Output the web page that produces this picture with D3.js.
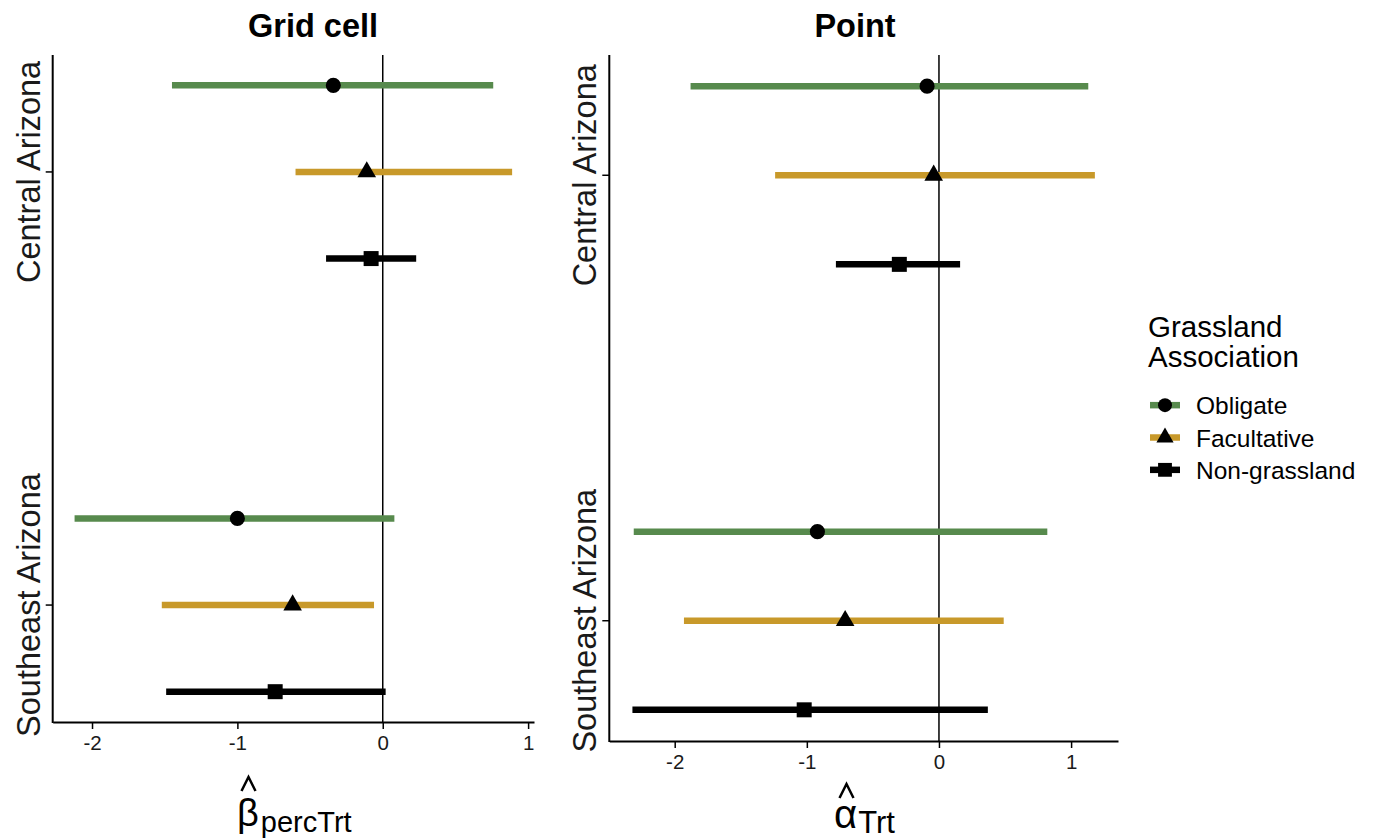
<!DOCTYPE html>
<html>
<head>
<meta charset="utf-8">
<script src="https://cdn.jsdelivr.net/npm/d3@7"></script>
<style>
  html, body { margin: 0; padding: 0; background: #fff; }
  svg { display: block; font-family: "Liberation Sans", Arial, sans-serif; }
</style>
</head>
<body>
<svg id="chart" width="1376" height="840"></svg>
<script>
// ---------------- data ----------------
const regions = ["Central Arizona", "Southeast Arizona"];
const groups = ["Obligate", "Facultative", "Non-grassland"];
const groupColors = ["#578A4D", "#C8992A", "#000000"];
const xTicks = [-2, -1, 0, 1];

// Grid cell panel (beta percTrt); order: region x group
const gridRegion = ["Central Arizona","Central Arizona","Central Arizona","Southeast Arizona","Southeast Arizona","Southeast Arizona"];
const gridGroup  = ["Obligate","Facultative","Non-grassland","Obligate","Facultative","Non-grassland"];
const gridEstimate = [-0.34, -0.11, -0.08, -1.00, -0.62, -0.74];
const gridLower    = [-1.45, -0.60, -0.39, -2.12, -1.52, -1.49];
const gridUpper    = [ 0.76,  0.89,  0.23,  0.08, -0.06,  0.02];

// Point panel (alpha Trt)
const pointRegion = gridRegion;
const pointGroup  = gridGroup;
const pointEstimate = [-0.09, -0.04, -0.30, -0.92, -0.71, -1.02];
const pointLower    = [-1.88, -1.24, -0.78, -2.31, -1.93, -2.32];
const pointUpper    = [ 1.13,  1.18,  0.16,  0.82,  0.49,  0.37];

// ---------------- drawing ----------------
const svg = d3.select("#chart");
const shapes = [d3.symbolCircle, d3.symbolTriangle, d3.symbolSquare];
const shapeSize = [180, 150, 225];
const dodge = [-0.2, 0, 0.2];

function panel(opts) {
  const {left, right, top, bottom, est, lo, hi, reg, grp, title, titleX} = opts;
  const data = est.map((e, i) => ({
    est: e, lo: lo[i], hi: hi[i],
    r: regions.indexOf(reg[i]), g: groups.indexOf(grp[i])
  }));
  const xmin = d3.min(data, d => d.lo), xmax = d3.max(data, d => d.hi);
  const xr = xmax - xmin;
  const x = d3.scaleLinear().domain([xmin - 0.05 * xr, xmax + 0.05 * xr]).range([left, right]);
  const ymin = 1 - 0.2, ymax = regions.length + 0.2, yr = ymax - ymin;
  const y = d3.scaleLinear().domain([ymin - 0.05 * yr, ymax + 0.05 * yr]).range([top, bottom]);
  const yPos = d => y(d.r + 1 + dodge[d.g]);

  const g = svg.append("g");

  // zero reference line
  g.append("line")
    .attr("x1", x(0)).attr("x2", x(0))
    .attr("y1", top).attr("y2", bottom)
    .attr("stroke", "#000").attr("stroke-width", 1.5);

  // error bars
  g.selectAll("line.bar").data(data).join("line")
    .attr("class", "bar")
    .attr("x1", d => x(d.lo)).attr("x2", d => x(d.hi))
    .attr("y1", yPos).attr("y2", yPos)
    .attr("stroke", d => groupColors[d.g])
    .attr("stroke-width", 6.5);

  // points
  g.selectAll("path.pt").data(data).join("path")
    .attr("class", "pt")
    .attr("transform", d => `translate(${x(d.est)},${yPos(d)})`)
    .attr("d", d => d3.symbol().type(shapes[d.g]).size(shapeSize[d.g])())
    .attr("fill", "#000");

  // x axis
  const xa = g.append("g").attr("transform", `translate(0,${bottom})`)
    .call(d3.axisBottom(x).tickValues(xTicks).tickFormat(d => String(d)).tickSize(7).tickPadding(6).tickSizeOuter(0));
  xa.select(".domain").attr("stroke", "#000").attr("stroke-width", 2);
  xa.selectAll(".tick line").attr("stroke", "#000").attr("stroke-width", 1.5);
  xa.selectAll(".tick text").attr("font-size", 20.5).attr("fill", "#1a1a1a")
    .attr("font-family", "Liberation Sans, Arial, sans-serif");

  // y axis
  const yScaleCat = d3.scaleOrdinal().domain(regions).range(regions.map((r, i) => y(i + 1)));
  const ya = g.append("g").attr("transform", `translate(${left},0)`);
  ya.append("line").attr("x1", 0).attr("x2", 0).attr("y1", top).attr("y2", bottom + 1)
    .attr("stroke", "#000").attr("stroke-width", 2);
  regions.forEach(r => {
    ya.append("line").attr("x1", -7).attr("x2", 0)
      .attr("y1", yScaleCat(r)).attr("y2", yScaleCat(r))
      .attr("stroke", "#000").attr("stroke-width", 1.5);
    ya.append("text")
      .attr("transform", `translate(-13,${yScaleCat(r)}) rotate(-90)`)
      .attr("text-anchor", "middle")
      .attr("font-size", 32.5).attr("fill", "#1a1a1a")
      .text(r);
  });

  // panel title
  svg.append("text").attr("x", titleX).attr("y", 37)
    .attr("text-anchor", "middle").attr("font-weight", "bold")
    .attr("font-size", 32.5).attr("fill", "#000").text(title);
  return {x, y};
}

panel({left: 52.7, right: 534, top: 55, bottom: 722,
  est: gridEstimate, lo: gridLower, hi: gridUpper, reg: gridRegion, grp: gridGroup,
  title: "Grid cell", titleX: 313});
panel({left: 609.3, right: 1118, top: 55, bottom: 741,
  est: pointEstimate, lo: pointLower, hi: pointUpper, reg: pointRegion, grp: pointGroup,
  title: "Point", titleX: 855});

// axis titles (plotmath style)
function hat(cx, ytop, w, h) {
  svg.append("path")
    .attr("d", `M${cx - w / 2},${ytop + h} L${cx},${ytop} L${cx + w / 2},${ytop + h}`)
    .attr("fill", "none").attr("stroke", "#000").attr("stroke-width", 2.5);
}
const t1 = svg.append("text").attr("x", 237).attr("y", 826).attr("font-size", 38).attr("fill", "#000");
t1.append("tspan").text("β");
t1.append("tspan").attr("font-size", 29).attr("dx", 2).attr("dy", 6).text("percTrt");
hat(248.5, 777, 14, 14);

const t2 = svg.append("text").attr("x", 834).attr("y", 828).attr("font-size", 40).attr("fill", "#000");
t2.append("tspan").text("α");
t2.append("tspan").attr("font-size", 31).attr("dx", 1).attr("dy", 5).text("Trt");
hat(846.5, 784, 14, 14);

// legend
const lg = svg.append("g").attr("transform", "translate(1148,0)");
lg.append("text").attr("x", 0).attr("y", 337).attr("font-size", 29.5).attr("fill", "#000").text("Grassland");
lg.append("text").attr("x", 0).attr("y", 367).attr("font-size", 29.5).attr("fill", "#000").text("Association");
const legendY = d3.scaleBand().domain(groups).range([389, 486]);
groups.forEach((gname, i) => {
  const cy = legendY(gname) + legendY.bandwidth() / 2;
  lg.append("line").attr("x1", 2).attr("x2", 32).attr("y1", cy).attr("y2", cy)
    .attr("stroke", groupColors[i]).attr("stroke-width", 6.5);
  lg.append("path").attr("transform", `translate(17,${cy})`)
    .attr("d", d3.symbol().type(shapes[i]).size(shapeSize[i] * 0.85)()).attr("fill", "#000");
  lg.append("text").attr("x", 48).attr("y", cy + 9).attr("font-size", 24.5).attr("fill", "#000").text(gname);
});
</script>
</body>
</html>
